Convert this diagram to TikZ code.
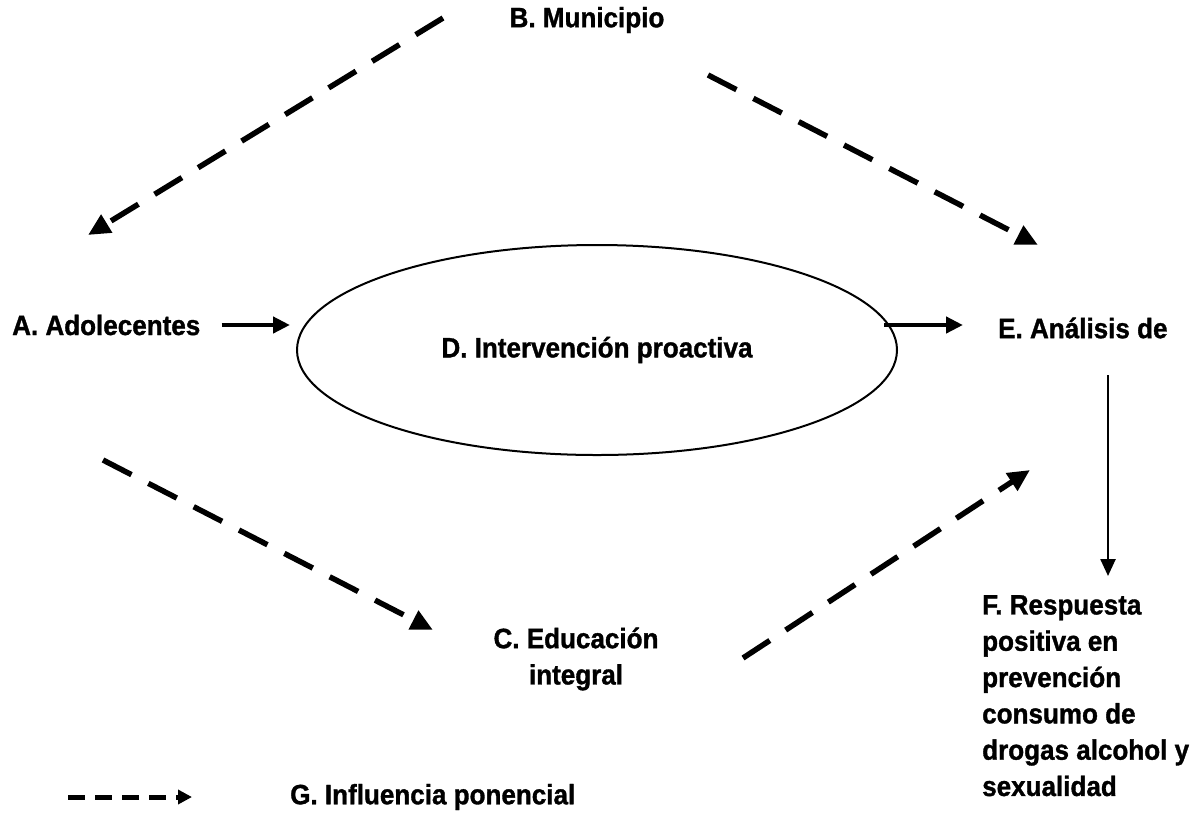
\documentclass[tikz,border=0pt]{standalone}
\usepackage{fontspec}
\setmainfont{Liberation Sans}[FakeStretch=0.93, BoldFeatures={FakeBold=1.2, FakeStretch=0.93}]
\usetikzlibrary{arrows.meta,shapes.geometric}
\begin{document}
\begin{tikzpicture}[x=1pt,y=-1pt,
 lbl/.style={font=\fontsize{28}{36.3}\selectfont\bfseries, inner sep=0pt},
 infl/.style={line width=5.5pt, dash pattern=on 32pt off 19pt, -{Triangle[length=22pt,width=20pt]}},
 legendarrow/.style={line width=5pt, dash pattern=on 17pt off 10pt, -{Triangle[length=14pt,width=14pt]}},
 flow/.style={line width=4.5pt, -{Triangle[length=17pt,width=16pt]}},
 vflow/.style={line width=2.5pt, -{Triangle[length=17pt,width=15pt]}}]
\useasboundingbox (0,0) rectangle (1198,820);
\node[lbl] (B) at (587,20) {B. Municipio};
\node[lbl, anchor=west] (A) at (12,325) {A. Adolecentes};
\node[draw, ellipse, line width=2pt, minimum width=600pt, minimum height=210pt, lbl] (D) at (597,350) {D. Intervención proactiva};
\node[lbl, anchor=west] (E) at (998,328) {E. Análisis de};
\node[lbl, anchor=north west, align=left] (F) at (982,595) {F. Respuesta\\positiva en\\prevención\\consumo de\\drogas alcohol y\\sexualidad};
\node[lbl, align=center] (C) at (576,659) {C. Educación\\integral};
\node[lbl, anchor=west] (G) at (290,797) {G. Influencia ponencial};
% influence arrow endpoints
\coordinate (b1) at (443,18);
\coordinate (a1) at (88,235);
\coordinate (b2) at (708,75);
\coordinate (e1) at (1038,245);
\coordinate (a2) at (103,460);
\coordinate (c1) at (433,630);
\coordinate (c2) at (743,658);
\coordinate (e2) at (1030,470);
\coordinate (g1) at (68,797);
\coordinate (g2) at (192,797);
\draw[infl] (b1) -- (a1);
\draw[infl] (b2) -- (e1);
\draw[infl] (a2) -- (c1);
\draw[infl] (c2) -- (e2);
\draw[legendarrow] (g1) -- (g2);
% solid flow arrows
\coordinate (f1) at (1108,375);
\coordinate (f2) at (1108,576);
\draw[flow] ([xshift=21pt]A.east) -- ([xshift=-6pt]D.west |- A.east);
\draw[flow] ([xshift=-14pt]D.east |- A.east) -- (963,325);
\draw[vflow] (f1) -- (f2);
\end{tikzpicture}
\end{document}
